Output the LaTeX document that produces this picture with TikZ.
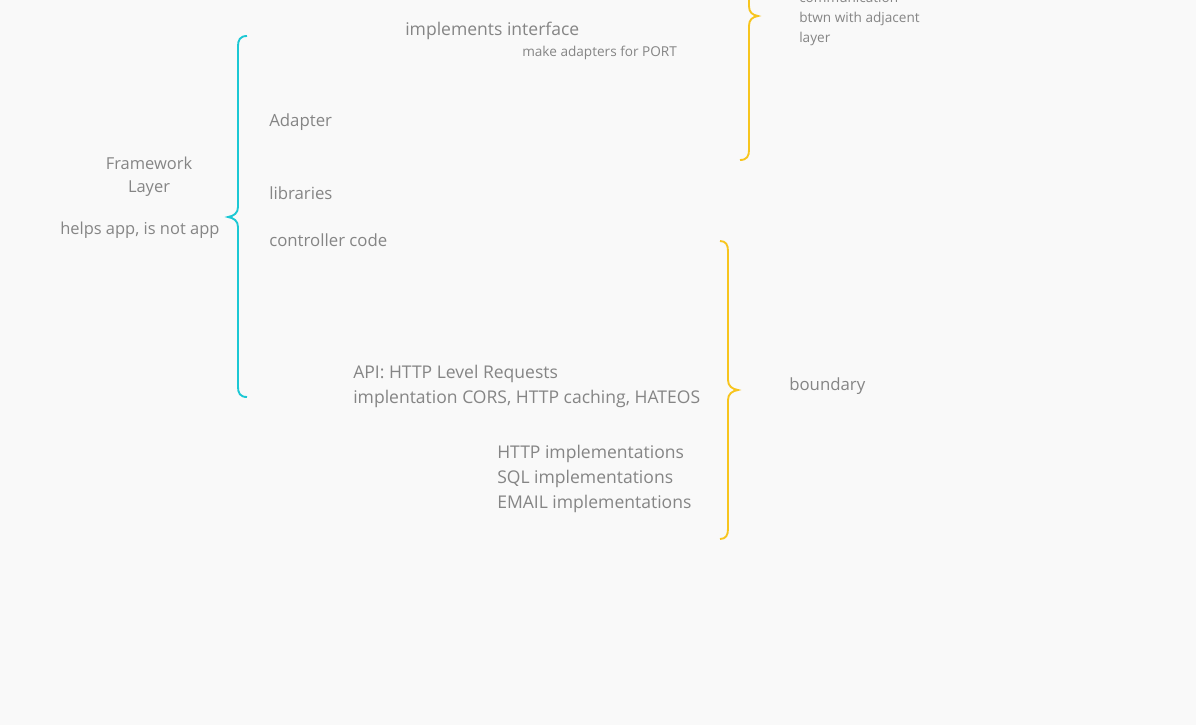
\documentclass[tikz,border=0pt]{standalone}
\usepackage{fontspec}
\setmainfont{Open Sans}
\definecolor{bg}{HTML}{F9F9F9}
\definecolor{txt}{HTML}{858585}
\definecolor{cyanb}{HTML}{1CC8D4}
\definecolor{yelb}{HTML}{F7C51E}
\begin{document}
\begin{tikzpicture}[x=0.75pt,y=-0.75pt,
  lbl/.style={text=txt,font=\fontsize{12.6}{18.75}\selectfont,inner sep=0pt,anchor=west,align=left},
  mid/.style={lbl,font=\fontsize{13.15}{18.75}\selectfont},
  lsmall/.style={lbl,font=\fontsize{12.35}{17.25}\selectfont},
  small/.style={lbl,font=\fontsize{10.2}{15}\selectfont},
  bracecyan/.style={draw=cyanb,line width=1.4pt},
  braceyel/.style={draw=yelb,line width=1.4pt}]
\fill[bg] (0,0) rectangle (1196,725);
\useasboundingbox (0,0) rectangle (1196,725);
\begin{scope}
\clip (0,0) rectangle (1196,725);
% cyan brace
\draw[bracecyan] (247,36) .. controls (240,36) and (238,40) .. (238,46) -- (238,207)
  .. controls (238,213) and (234,216) .. (228,217)
  .. controls (234,218) and (238,221) .. (238,227) -- (238,387)
  .. controls (238,393) and (240,397) .. (247,397);
% top yellow brace
\draw[braceyel] (740,-128) .. controls (747,-128) and (749,-124) .. (749,-118) -- (749,6)
  .. controls (749,12) and (752,15) .. (758,16)
  .. controls (752,17) and (749,20) .. (749,26) -- (749,150)
  .. controls (749,156) and (747,160) .. (740,160);
% bottom yellow brace
\draw[braceyel] (720,241) .. controls (726,241) and (728,245) .. (728,251) -- (728,380)
  .. controls (728,386) and (732,389) .. (738,390)
  .. controls (732,391) and (728,394) .. (728,400) -- (728,529)
  .. controls (728,535) and (726,539) .. (720,539);
% top right text
\node[small] (comm) at (799,19) {communication\\btwn with adjacent\\layer};
\end{scope}
\node[mid] (impl) at (405,31) {implements interface};
\node[small] (mkad) at (522,52.5) {make adapters for PORT};
\node[lbl] (adapter) at (269,122) {Adapter};
\node[lbl] (libs) at (269,193.5) {libraries};
\node[lbl] (ctrl) at (269,240.5) {controller code};
\node[lsmall,anchor=center,align=center] (fw) at (149,177) {Framework\\Layer};
\node[lsmall] (helps) at (60,230) {helps app, is not app};
\node[mid] (api) at (353,386) {API: HTTP Level Requests\\implentation CORS, HTTP caching, HATEOS};
\node[mid] (impls) at (497,478.5) {HTTP implementations\\SQL implementations\\EMAIL implementations};
\node[lbl] (bound) at (789,386) {boundary};
\end{tikzpicture}
\end{document}
